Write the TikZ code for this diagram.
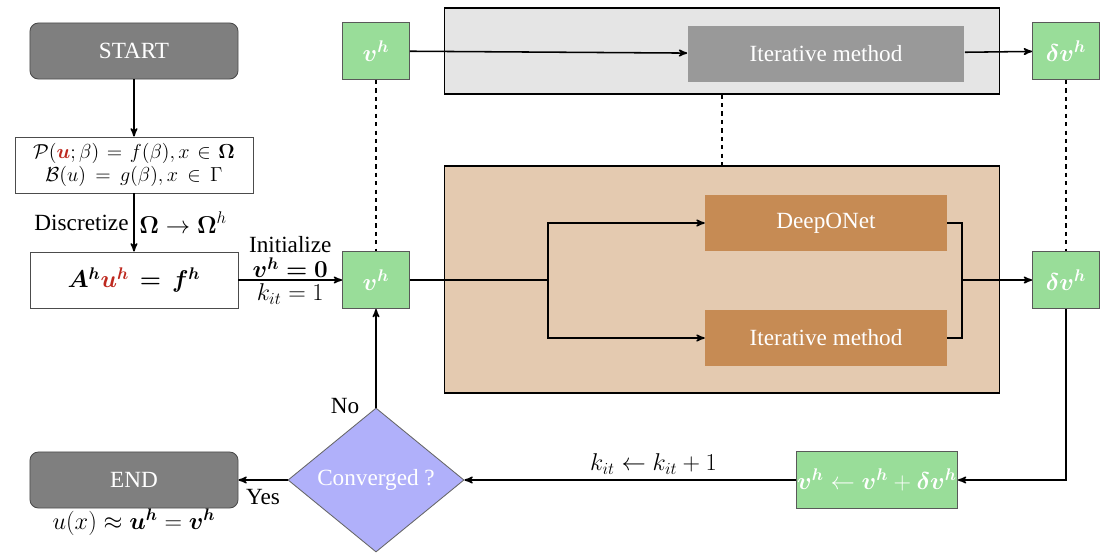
\documentclass[tikz,border=0pt]{standalone}
\usepackage{amsmath}
\usepackage{bm}
\usepackage{fontspec}
\setmainfont{Liberation Serif}
\usetikzlibrary{arrows,shapes.geometric}

\definecolor{boxgreen}{RGB}{153,221,153}
\definecolor{termgray}{RGB}{127,127,127}
\definecolor{framegray}{RGB}{229,229,229}
\definecolor{itergray}{RGB}{153,153,153}
\definecolor{tanlight}{RGB}{228,202,176}
\definecolor{tandark}{RGB}{198,139,84}
\definecolor{convblue}{RGB}{176,176,250}
\definecolor{ured}{RGB}{190,40,30}

\begin{document}
\begin{tikzpicture}[->,>=stealth',line width=1.1pt,x=0.025cm,y=-0.025cm,
        font=\fontsize{16.5}{19}\selectfont,
        term/.style={draw=black!70,fill=termgray,rounded corners=6pt,text=white,
            minimum width=5.2cm,minimum height=1.4cm,line width=0.6pt},
        plain/.style={draw=black!70,fill=white,minimum height=1.4cm,line width=0.6pt},
        vec/.style={draw=black!65,fill=boxgreen,text=white,minimum width=1.675cm,
            minimum height=1.425cm,inner sep=0pt,line width=0.6pt},
        frame/.style={draw=black,line width=0.8pt,minimum width=13.85cm},
        solver/.style={text=white,minimum width=6.025cm,minimum height=1.4cm},
        dots/.style={-,dash pattern=on 3pt off 3pt,line width=1.4pt}]
    \useasboundingbox (0,0) rectangle (1114,553);

    % backgrounds
    \node[frame,fill=framegray,minimum height=2.15cm] (topfrm) at (722,51) {};
    \node[frame,fill=tanlight,minimum height=5.675cm] (midfrm) at (722,279.5) {};

    % left column
    \node[term] (start) at (134,51) {START};
    \node[plain,minimum width=5.95cm,text width=5.8cm,align=center,inner sep=2pt,
        font=\fontsize{15}{17}\selectfont] (pde) at (134,165)
        {$\mathcal{P}(\textcolor{ured}{\bm{u}};\beta)=f(\beta),x\in\bm{\Omega}$\\[-1pt]
         $\mathcal{B}(u)=g(\beta),x\in\Gamma$};
    \node[plain,minimum width=5.2cm] (disc) at (134,280)
        {$\bm{A^h}\textcolor{ured}{\bm{u^h}}\,\bm{=}\,\bm{f^h}$};
    \node[term] (stop) at (134,480) {END};
    \node (sol) at (134,522) {$u(x)\approx\bm{u^h}=\bm{v^h}$};

    % vectors
    \node[vec] (vtop) at (376,51) {$\bm{v^h}$};
    \node[vec] (vmid) at (376,280) {$\bm{v^h}$};
    \node[vec] (dvtop) at (1066,51) {$\bm{\delta v^h}$};
    \node[vec] (dvmid) at (1066,280) {$\bm{\delta v^h}$};
    \node[vec,minimum width=4.025cm] (upd) at (877,480)
        {$\bm{v^h}\leftarrow\bm{v^h}+\bm{\delta v^h}$};

    % solvers
    \node[solver,fill=itergray,minimum width=6.9cm] (itertop) at (826,54) {Iterative method};
    \node[solver,fill=tandark] (deep) at (826,223) {DeepONet};
    \node[solver,fill=tandark] (iterlow) at (826,338) {Iterative method};

    \node[diamond,draw=black!60,fill=convblue,text=white,aspect=1.22,
        minimum width=4.4cm,minimum height=3.6cm,inner sep=0pt,line width=0.6pt]
        (conv) at (376,480) {Converged ?};

    \coordinate (jin) at (548,280);
    \coordinate (jout) at (962,280);

    \path (start) edge (pde)
        (pde) edge node[left] {Discretize} node[right] {$\bm{\Omega}\rightarrow\bm{\Omega}^h$} (disc)
        (disc) edge node[above,align=center,inner sep=1pt] {Initialize\\[-1pt]$\bm{v^h=0}$}
            node[below,inner sep=2pt] {$k_{it}=1$} (vmid)
        (vtop) edge (itertop)
        (itertop) edge (dvtop)
        (jout) edge (dvmid)
        (upd) edge node[above,pos=0.43] {$k_{it}\leftarrow k_{it}+1$} (conv)
        (conv.north) edge node[left,pos=0,xshift=-8pt,yshift=1pt] {No} (vmid)
        (conv) edge node[below,inner sep=6pt] {Yes} (stop);

    \draw[-] (vmid) -- (jin);
    \draw (jin) |- (deep);
    \draw (jin) |- (iterlow);
    \draw[-] (deep) -| (jout);
    \draw[-] (iterlow) -| (jout);
    \draw (dvmid.south) |- (upd);

    \draw[dots] (vtop) -- (vmid);
    \draw[dots] (dvtop) -- (dvmid);
    \draw[dots] (topfrm) -- (midfrm);
\end{tikzpicture}
\end{document}
